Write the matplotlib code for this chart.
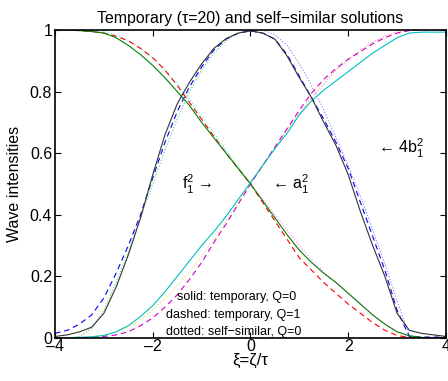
import numpy as np
import matplotlib
matplotlib.use('Agg')
import matplotlib.pyplot as plt

plt.rcParams['font.family'] = ['Liberation Sans', 'DejaVu Sans']
plt.rcParams['mathtext.fontset'] = 'custom'
plt.rcParams['mathtext.rm'] = 'Liberation Sans'

# sample grid for xi = zeta/tau
xi = [-4, -3.75, -3.5, -3.25, -3, -2.75, -2.5, -2.25, -2, -1.75, -1.5, -1.25, -1,
      -0.75, -0.5, -0.25, 0, 0.25, 0.5, 0.75, 1, 1.25, 1.5, 1.75, 2, 2.25, 2.5,
      2.75, 3, 3.25, 3.5, 3.75, 4]

# solid: temporary, Q=0
a_q0 = [1, 1, 0.998, 0.995, 0.99, 0.975, 0.95, 0.92, 0.885, 0.845, 0.80, 0.755, 0.70,
        0.65, 0.60, 0.55, 0.50, 0.445, 0.39, 0.335, 0.285, 0.245, 0.21, 0.18, 0.145, 0.11,
        0.075, 0.045, 0.02, 0.007, 0.002, 0, 0]
f_q0 = [0, 0, 0.002, 0.004, 0.008, 0.02, 0.04, 0.07, 0.105, 0.15, 0.20, 0.25, 0.30,
        0.345, 0.395, 0.45, 0.505, 0.56, 0.615, 0.665, 0.725, 0.77, 0.805, 0.835, 0.865,
        0.895, 0.925, 0.95, 0.975, 0.99, 0.993, 0.993, 0.993]
b_q0 = [0.005, 0.01, 0.02, 0.035, 0.08, 0.165, 0.27, 0.39, 0.53, 0.66, 0.76, 0.83, 0.89,
        0.94, 0.972, 0.99, 0.997, 0.99, 0.97, 0.915, 0.845, 0.78, 0.70, 0.625, 0.53, 0.41,
        0.30, 0.20, 0.08, 0.025, 0.015, 0.01, 0.005]

# dashed: temporary, Q=1
a_q1 = [1, 1, 0.998, 0.995, 0.99, 0.98, 0.965, 0.94, 0.91, 0.87, 0.82, 0.765, 0.71,
        0.655, 0.60, 0.55, 0.50, 0.44, 0.38, 0.32, 0.26, 0.22, 0.18, 0.145, 0.11, 0.08,
        0.05, 0.025, 0.008, 0.002, 0, 0, 0]
f_q1 = [0, 0, 0, 0.002, 0.005, 0.01, 0.02, 0.04, 0.065, 0.10, 0.14, 0.19, 0.245,
        0.31, 0.37, 0.435, 0.50, 0.56, 0.62, 0.68, 0.74, 0.795, 0.84, 0.875, 0.905, 0.93,
        0.955, 0.975, 0.99, 0.998, 1, 1, 1]
b_q1 = [0.015, 0.025, 0.045, 0.075, 0.13, 0.21, 0.30, 0.40, 0.52, 0.635, 0.735, 0.815,
        0.88, 0.935, 0.97, 0.99, 0.997, 0.99, 0.97, 0.92, 0.85, 0.78, 0.71, 0.635, 0.55,
        0.44, 0.33, 0.22, 0.09, 0.005, 0.003, 0.003, 0.003]

# dotted: self-similar, Q=0
a_ss = [1, 1, 1, 0.998, 0.995, 0.985, 0.965, 0.94, 0.91, 0.87, 0.825, 0.775, 0.72,
        0.665, 0.61, 0.555, 0.50, 0.45, 0.40, 0.35, 0.30, 0.255, 0.215, 0.18, 0.145,
        0.11, 0.075, 0.045, 0.02, 0.005, 0, 0, 0]
f_ss = [0, 0, 0, 0.003, 0.01, 0.02, 0.035, 0.06, 0.09, 0.13, 0.17, 0.215, 0.265,
        0.32, 0.38, 0.44, 0.50, 0.56, 0.62, 0.675, 0.73, 0.78, 0.825, 0.87, 0.905, 0.935,
        0.96, 0.98, 0.993, 1, 1, 1, 1]
b_ss = [0, 0, 0.005, 0.03, 0.09, 0.18, 0.28, 0.39, 0.50, 0.61, 0.71, 0.80, 0.87,
        0.925, 0.965, 0.99, 1.0, 1.0, 0.985, 0.95, 0.89, 0.82, 0.74, 0.65, 0.56, 0.46,
        0.35, 0.24, 0.12, 0.01, 0, 0, 0]

x = np.array(xi)
left = x <= 0
right = x >= 0

fig = plt.figure(figsize=(4.48, 3.81), dpi=100)
ax = fig.add_axes([0.1228, 0.1129, 0.8727, 0.8084])

lw = 0.8
dash = (5, 3.5)

# self-similar (dotted, pale colours, different colour on each half)
for arr, cl, cr in [(b_ss, '#66cc66', '#8080ff'),
                    (a_ss, '#66e0e0', '#ff80ff'),
                    (f_ss, '#e0e060', '#ff9090')]:
    y = np.array(arr)
    ax.plot(x[left], y[left], ':', color=cl, lw=lw)
    ax.plot(x[right], y[right], ':', color=cr, lw=lw)

# temporary Q=1 (dashed)
ax.plot(x, a_q1, '--', color='#ff0000', lw=lw, dashes=dash)
ax.plot(x, f_q1, '--', color='#cc00cc', lw=lw, dashes=dash)
ax.plot(x, b_q1, '--', color='#0000ff', lw=lw, dashes=dash)

# temporary Q=0 (solid)
ax.plot(x, a_q0, '-', color='#008000', lw=lw)
ax.plot(x, f_q0, '-', color='#00c0c0', lw=lw)
ax.plot(x, b_q0, '-', color='#333333', lw=lw)

ax.set_xlim(-4, 4)
ax.set_ylim(0, 1)
ax.set_xticks([-4, -2, 0, 2, 4])
ax.set_yticks([0, 0.2, 0.4, 0.6, 0.8, 1])
ax.set_xticklabels(['\u20134', '\u20132', '0', '2', '4'])
ax.set_yticklabels(['0', '0.2', '0.4', '0.6', '0.8', '1'])
ax.tick_params(direction='in', length=4, width=0.8, labelsize=11.5,
               top=True, right=True)
ax.tick_params(axis='x', pad=1)
ax.tick_params(axis='y', pad=2)
for s in ax.spines.values():
    s.set_linewidth(1.2)

ax.set_title('Temporary (\u03c4=20) and self\u2212similar solutions', fontsize=11.4, pad=5)
ax.set_xlabel('\u03be=\u03b6/\u03c4', fontsize=12, labelpad=-1)
ax.set_ylabel('Wave intensities', fontsize=11.5, labelpad=6)

# curve labels
ax.text(-0.77, 0.50, '$\\mathregular{f_1^2}$ \u2192', fontsize=11.5,
        ha='right', va='center')
ax.text(0.45, 0.50, '\u2190 $\\mathregular{a_1^2}$', fontsize=11.5,
        ha='left', va='center')
ax.text(2.6, 0.615, '\u2190 $\\mathregular{4b_1^2}$', fontsize=11.5,
        ha='left', va='center')

# line-style key
ax.text(-0.28, 0.133, 'solid: temporary, Q=0', fontsize=9, ha='center', va='center')
ax.text(-0.35, 0.075, 'dashed: temporary, Q=1', fontsize=9, ha='center', va='center')
ax.text(-0.35, 0.02, 'dotted: self\u2212similar, Q=0', fontsize=9, ha='center', va='center')

fig.savefig('out.png', dpi=100)
